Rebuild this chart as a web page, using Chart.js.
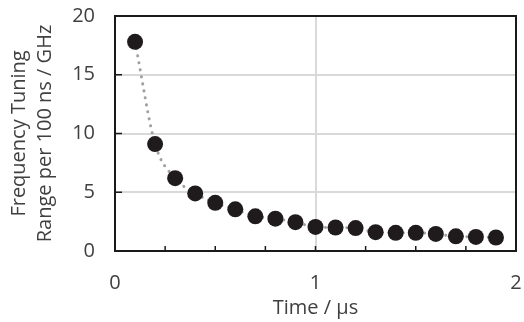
<!DOCTYPE html>
<html>
<head>
<meta charset="utf-8">
<script src="https://cdn.jsdelivr.net/npm/chart.js@4"></script>
<style>
  html, body { margin: 0; padding: 0; background: #fff; }
  #wrap { width: 524px; height: 322px; }
</style>
</head>
<body>
<div id="wrap"><canvas id="myChart"></canvas></div>
<script>
    // data
    const timeUs = [0.1, 0.2, 0.3, 0.4, 0.5, 0.6, 0.7, 0.8, 0.9, 1.0, 1.1, 1.2, 1.3, 1.4, 1.5, 1.6, 1.7, 1.8, 1.9];
    const tuningRange = [17.8, 9.1, 6.2, 4.9, 4.1, 3.55, 2.95, 2.75, 2.45, 2.05, 2.0, 1.95, 1.6, 1.55, 1.55, 1.45, 1.25, 1.2, 1.15];
    const xTickLabels = [0, 1, 2];
    const yTickLabels = [0, 5, 10, 15, 20];

    const points = timeUs.map((t, i) => ({ x: t, y: tuningRange[i] }));
    const textColor = '#404040';
    const fontFamily = "'Open Sans', sans-serif";

    // frame + inward tick marks
    const framePlugin = {
        id: 'frame',
        afterDraw(chart) {
            const { ctx, chartArea: a, scales } = chart;
            ctx.save();
            ctx.strokeStyle = '#1a1a1a';
            ctx.lineWidth = 2;
            ctx.strokeRect(a.left, a.top, a.right - a.left, a.bottom - a.top);
            ctx.lineWidth = 1.5;
            ctx.beginPath();
            for (let v = 0.25; v < 2; v += 0.25) {
                const px = scales.x.getPixelForValue(v);
                ctx.moveTo(px, a.bottom);
                ctx.lineTo(px, a.bottom - 5);
            }
            for (let v = 5; v < 20; v += 5) {
                const py = scales.y.getPixelForValue(v);
                ctx.moveTo(a.left, py);
                ctx.lineTo(a.left + 7, py);
            }
            ctx.stroke();
            ctx.restore();
        }
    };

    new Chart("myChart", {
        type: "scatter",
        data: {
            datasets: [{
                label: "Tuning range",
                data: points,
                showLine: true,
                cubicInterpolationMode: 'monotone',
                borderColor: "#a0a0a0",
                borderWidth: 3,
                borderDash: [0.1, 7],
                borderCapStyle: 'round',
                pointRadius: 8,
                pointHoverRadius: 8,
                pointBackgroundColor: "#1f1a1b",
                pointBorderColor: "#1f1a1b",
                pointBorderWidth: 0
            }]
        },
        plugins: [framePlugin],
        options: {
            responsive: true,
            maintainAspectRatio: false,
            animation: false,
            layout: { padding: { top: 0, right: 0, left: 6, bottom: 0 } },
            plugins: {
                legend: { display: false },
                tooltip: { enabled: false }
            },
            scales: {
                x: {
                    type: 'linear',
                    min: 0,
                    max: 2,
                    afterFit: function(scale) {
                        scale.height = 71;
                        scale.paddingLeft = 0;
                        scale.paddingRight = 6;
                    },
                    ticks: {
                        stepSize: 0.25,
                        autoSkip: false,
                        maxRotation: 0,
                        color: textColor,
                        font: { family: fontFamily, size: 20 },
                        padding: 20,
                        callback: function(value) {
                            return xTickLabels.includes(value) ? String(value) : '';
                        }
                    },
                    grid: {
                        color: ctx => (ctx.tick && ctx.tick.value === 1) ? '#d9d9d9' : 'rgba(0,0,0,0)',
                        lineWidth: 2,
                        drawTicks: false
                    },
                    border: { display: false },
                    title: {
                        display: true,
                        text: 'Time / µs',
                        color: textColor,
                        font: { family: fontFamily, size: 20 },
                        padding: { top: 0, bottom: 2 }
                    }
                },
                y: {
                    min: 0,
                    max: 20,
                    afterFit: function(scale) {
                        scale.width = 109;
                        scale.paddingTop = 16;
                        scale.paddingBottom = 0;
                    },
                    ticks: {
                        stepSize: 5,
                        color: textColor,
                        font: { family: fontFamily, size: 20 },
                        padding: 20,
                        callback: function(value) {
                            return yTickLabels.includes(value) ? String(value) : '';
                        }
                    },
                    grid: {
                        color: ctx => (ctx.tick && ctx.tick.value > 0 && ctx.tick.value < 20) ? '#d9d9d9' : 'rgba(0,0,0,0)',
                        lineWidth: 2,
                        drawTicks: false
                    },
                    border: { display: false },
                    title: {
                        display: true,
                        text: ['Frequency Tuning', 'Range per 100 ns / GHz'],
                        color: textColor,
                        font: { family: fontFamily, size: 20, lineHeight: 1.3 },
                        padding: { top: 0, bottom: 0 }
                    }
                }
            }
        }
    });
</script>
</body>
</html>
